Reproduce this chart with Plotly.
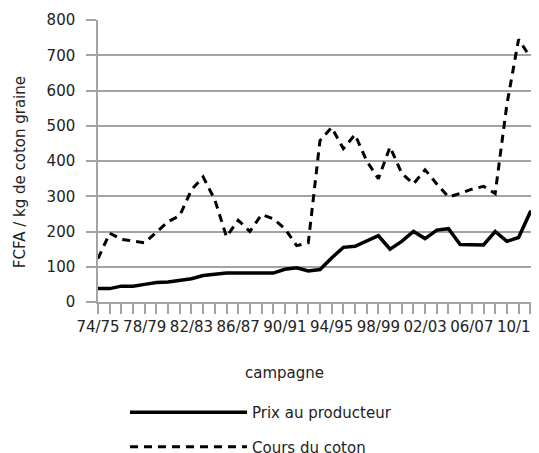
import plotly.graph_objects as go

CAMPAGNES = [
    "74/75", "75/76", "76/77", "77/78", "78/79", "79/80", "80/81", "81/82",
    "82/83", "83/84", "84/85", "85/86", "86/87", "87/88", "88/89", "89/90",
    "90/91", "91/92", "92/93", "93/94", "94/95", "95/96", "96/97", "97/98",
    "98/99", "99/00", "00/01", "01/02", "02/03", "03/04", "04/05", "05/06",
    "06/07", "07/08", "08/09", "09/10", "10/11", "11/12", "12/13",
]

# FCFA / kg de coton graine
PRIX_PRODUCTEUR = [
    38, 38, 45, 45, 50, 55, 57, 62, 66, 75, 79, 82, 82, 82, 82, 82, 93, 97,
    88, 92, 125, 155, 158, 172, 188, 150, 172, 200, 180, 204, 208, 163, 162,
    162, 200, 172, 183, 255, 255,
]
COURS_COTON = [
    123, 195, 178, 173, 168, 198, 228, 245, 318, 355, 290, 185, 232, 200,
    248, 236, 208, 160, 168, 458, 495, 435, 475, 400, 350, 440, 365, 335,
    375, 335, 298, 308, 320, 328, 308, 560, 745, 695,
]

TICK_LABELS = CAMPAGNES[0:37:4]
Y_TICKS = [0, 100, 200, 300, 400, 500, 600, 700, 800]

FONT = "DejaVu Sans"
GRID = "#a3a3a3"

fig = go.Figure()
fig.add_trace(
    go.Scatter(
        x=list(range(len(PRIX_PRODUCTEUR))),
        y=PRIX_PRODUCTEUR,
        mode="lines",
        name="Prix au producteur",
        legendgroup="prix",
        line=dict(color="black", width=3.5),
    )
)
fig.add_trace(
    go.Scatter(
        x=list(range(len(COURS_COTON))),
        y=COURS_COTON,
        mode="lines",
        name="Cours du coton",
        legendgroup="cours",
        line=dict(color="black", width=3, dash="8px,6px"),
    )
)

fig.add_annotation(
    text="FCFA / kg de coton graine", textangle=-90, showarrow=False,
    xref="paper", yref="paper", x=-0.177, y=0.46,
    xanchor="center", yanchor="middle",
    font=dict(family=FONT, size=15, color="#222"),
)
fig.add_annotation(
    text="campagne", showarrow=False,
    xref="paper", yref="paper", x=0.424, y=-0.25,
    xanchor="center", yanchor="middle",
    font=dict(family=FONT, size=15, color="#222"),
)

# the page keeps the browser's 8px body margin, so the figure is 8px smaller
fig.update_layout(
    width=531,
    height=445,
    margin=dict(l=90, r=0, t=12, b=151, autoexpand=False),
    paper_bgcolor="white",
    plot_bgcolor="white",
    font=dict(family=FONT, size=15, color="#222"),
    showlegend=True,
    legend=dict(
        x=0.0612, y=-0.333, xanchor="left", yanchor="top",
        itemwidth=117, tracegroupgap=12,
        font=dict(family=FONT, size=15, color="#222"),
        bgcolor="rgba(0,0,0,0)",
    ),
)
fig.update_xaxes(
    range=[0, 37.75],
    tickvals=list(range(0, 37, 4)),
    ticktext=TICK_LABELS,
    ticks="outside", ticklen=10, tickcolor=GRID, tickwidth=1.5,
    minor=dict(dtick=1, tick0=0, ticks="outside", ticklen=10, tickcolor=GRID, tickwidth=1.5),
    showgrid=False, zeroline=False,
    showline=True, linecolor=GRID, linewidth=1.5,
    tickangle=0, automargin=False, ticklabeloverflow="allow",
)
fig.update_yaxes(
    range=[0, 800],
    tickvals=Y_TICKS,
    ticks="outside", ticklen=10, tickcolor=GRID, tickwidth=1.5,
    ticklabelstandoff=8,
    showgrid=True, gridcolor=GRID, gridwidth=1.5,
    zeroline=False,
    showline=True, linecolor=GRID, linewidth=1.5,
    automargin=False,
)

fig.write_html("out.html")
